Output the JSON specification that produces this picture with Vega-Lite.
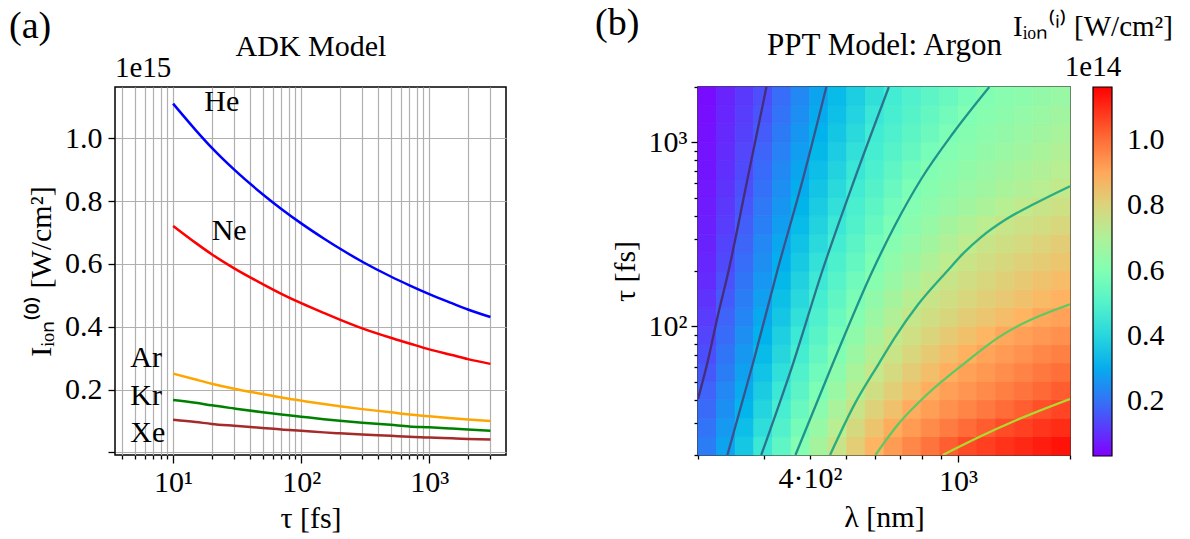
{
  "$schema": "https://vega.github.io/schema/vega-lite/v6.json",
  "background": "white",
  "padding": {"left": 8, "top": 4, "right": 5, "bottom": 3},
  "bounds": "flush",
  "spacing": 192,
  "config": {
    "font": "Liberation Serif",
    "view": {"stroke": "black", "strokeWidth": 1.5},
    "axis": {"labelFont": "Liberation Serif", "titleFont": "Liberation Serif", "labelFontSize": 30, "titleFontSize": 30, "titleFontWeight": "normal", "labelColor": "black", "titleColor": "black", "tickColor": "black", "tickWidth": 1.3, "domain": false, "grid": false, "labelOverlap": false, "labelFlush": false, "labelBound": false},
    "title": {"font": "Liberation Serif", "fontSize": 38, "fontWeight": "normal", "color": "black"},
    "text": {"font": "Liberation Serif", "color": "black"}
  },
  "datasets": {
    "adk": [
      {"gas":"He","tau":10,"I":1.110},{"gas":"He","tau":15,"I":1.026},{"gas":"He","tau":20,"I":0.970},{"gas":"He","tau":30,"I":0.900},{"gas":"He","tau":50,"I":0.822},{"gas":"He","tau":70,"I":0.775},{"gas":"He","tau":100,"I":0.729},{"gas":"He","tau":150,"I":0.681},{"gas":"He","tau":200,"I":0.649},{"gas":"He","tau":300,"I":0.607},{"gas":"He","tau":500,"I":0.560},{"gas":"He","tau":700,"I":0.532},{"gas":"He","tau":1000,"I":0.504},{"gas":"He","tau":1500,"I":0.475},{"gas":"He","tau":2000,"I":0.455},{"gas":"He","tau":3000,"I":0.431},
      {"gas":"Ne","tau":10,"I":0.721},{"gas":"Ne","tau":15,"I":0.667},{"gas":"Ne","tau":20,"I":0.631},{"gas":"Ne","tau":30,"I":0.586},{"gas":"Ne","tau":50,"I":0.536},{"gas":"Ne","tau":70,"I":0.505},{"gas":"Ne","tau":100,"I":0.475},{"gas":"Ne","tau":150,"I":0.444},{"gas":"Ne","tau":200,"I":0.423},{"gas":"Ne","tau":300,"I":0.395},{"gas":"Ne","tau":500,"I":0.365},{"gas":"Ne","tau":700,"I":0.347},{"gas":"Ne","tau":1000,"I":0.328},{"gas":"Ne","tau":1500,"I":0.310},{"gas":"Ne","tau":2000,"I":0.297},{"gas":"Ne","tau":3000,"I":0.282},
      {"gas":"Ar","tau":10,"I":0.251},{"gas":"Ar","tau":15,"I":0.232},{"gas":"Ar","tau":20,"I":0.219},{"gas":"Ar","tau":30,"I":0.203},{"gas":"Ar","tau":50,"I":0.186},{"gas":"Ar","tau":70,"I":0.175},{"gas":"Ar","tau":100,"I":0.165},{"gas":"Ar","tau":150,"I":0.154},{"gas":"Ar","tau":200,"I":0.147},{"gas":"Ar","tau":300,"I":0.138},{"gas":"Ar","tau":500,"I":0.128},{"gas":"Ar","tau":700,"I":0.121},{"gas":"Ar","tau":1000,"I":0.115},{"gas":"Ar","tau":1500,"I":0.109},{"gas":"Ar","tau":2000,"I":0.105},{"gas":"Ar","tau":3000,"I":0.100},
      {"gas":"Kr","tau":10,"I":0.167},{"gas":"Kr","tau":15,"I":0.158},{"gas":"Kr","tau":20,"I":0.150},{"gas":"Kr","tau":30,"I":0.140},{"gas":"Kr","tau":50,"I":0.128},{"gas":"Kr","tau":70,"I":0.121},{"gas":"Kr","tau":100,"I":0.114},{"gas":"Kr","tau":150,"I":0.106},{"gas":"Kr","tau":200,"I":0.101},{"gas":"Kr","tau":300,"I":0.095},{"gas":"Kr","tau":500,"I":0.088},{"gas":"Kr","tau":700,"I":0.083},{"gas":"Kr","tau":1000,"I":0.080},{"gas":"Kr","tau":1500,"I":0.076},{"gas":"Kr","tau":2000,"I":0.073},{"gas":"Kr","tau":3000,"I":0.069},
      {"gas":"Xe","tau":10,"I":0.104},{"gas":"Xe","tau":15,"I":0.097},{"gas":"Xe","tau":20,"I":0.091},{"gas":"Xe","tau":30,"I":0.085},{"gas":"Xe","tau":50,"I":0.078},{"gas":"Xe","tau":70,"I":0.073},{"gas":"Xe","tau":100,"I":0.069},{"gas":"Xe","tau":150,"I":0.064},{"gas":"Xe","tau":200,"I":0.061},{"gas":"Xe","tau":300,"I":0.057},{"gas":"Xe","tau":500,"I":0.053},{"gas":"Xe","tau":700,"I":0.050},{"gas":"Xe","tau":1000,"I":0.048},{"gas":"Xe","tau":1500,"I":0.045},{"gas":"Xe","tau":2000,"I":0.043},{"gas":"Xe","tau":3000,"I":0.041}
    ],
    "adkLabels": [
      {"gas":"He","tau":17.5,"I":1.115},{"gas":"Ne","tau":20,"I":0.705},{"gas":"Ar","tau":4.63,"I":0.302},{"gas":"Kr","tau":4.63,"I":0.180},{"gas":"Xe","tau":4.63,"I":0.0615}
    ],
    "lamE": [
      {"c":0,"lam":200,"lam2":224.4},{"c":1,"lam":224.4,"lam2":251.8},{"c":2,"lam":251.8,"lam2":282.5},{"c":3,"lam":282.5,"lam2":317.0},{"c":4,"lam":317.0,"lam2":355.7},{"c":5,"lam":355.7,"lam2":399.1},{"c":6,"lam":399.1,"lam2":447.7},{"c":7,"lam":447.7,"lam2":502.4},{"c":8,"lam":502.4,"lam2":563.7},{"c":9,"lam":563.7,"lam2":632.5},{"c":10,"lam":632.5,"lam2":709.6},{"c":11,"lam":709.6,"lam2":796.2},{"c":12,"lam":796.2,"lam2":893.4},{"c":13,"lam":893.4,"lam2":1002.4},{"c":14,"lam":1002.4,"lam2":1124.7},{"c":15,"lam":1124.7,"lam2":1261.9},{"c":16,"lam":1261.9,"lam2":1415.9},{"c":17,"lam":1415.9,"lam2":1588.7},{"c":18,"lam":1588.7,"lam2":1782.5},{"c":19,"lam":1782.5,"lam2":2000}
    ],
    "tauE": [
      {"r":0,"tau":20,"tau2":25.18},{"r":1,"tau":25.18,"tau2":31.70},{"r":2,"tau":31.70,"tau2":39.91},{"r":3,"tau":39.91,"tau2":50.24},{"r":4,"tau":50.24,"tau2":63.25},{"r":5,"tau":63.25,"tau2":79.62},{"r":6,"tau":79.62,"tau2":100.24},{"r":7,"tau":100.24,"tau2":126.19},{"r":8,"tau":126.19,"tau2":158.87},{"r":9,"tau":158.87,"tau2":200},{"r":10,"tau":200,"tau2":251.8},{"r":11,"tau":251.8,"tau2":317.0},{"r":12,"tau":317.0,"tau2":399.1},{"r":13,"tau":399.1,"tau2":502.4},{"r":14,"tau":502.4,"tau2":632.5},{"r":15,"tau":632.5,"tau2":796.2},{"r":16,"tau":796.2,"tau2":1002.4},{"r":17,"tau":1002.4,"tau2":1261.9},{"r":18,"tau":1261.9,"tau2":1588.7},{"r":19,"tau":1588.7,"tau2":2000}
    ],
    "cells": [
      {"r":0,"c":0,"I":0.221},{"r":0,"c":1,"I":0.286},{"r":0,"c":2,"I":0.364},{"r":0,"c":3,"I":0.445},{"r":0,"c":4,"I":0.525},{"r":0,"c":5,"I":0.605},{"r":0,"c":6,"I":0.684},{"r":0,"c":7,"I":0.759},{"r":0,"c":8,"I":0.818},{"r":0,"c":9,"I":0.877},{"r":0,"c":10,"I":0.921},{"r":0,"c":11,"I":0.957},{"r":0,"c":12,"I":0.992},{"r":0,"c":13,"I":1.027},{"r":0,"c":14,"I":1.056},{"r":0,"c":15,"I":1.072},{"r":0,"c":16,"I":1.088},{"r":0,"c":17,"I":1.104},{"r":0,"c":18,"I":1.120},{"r":0,"c":19,"I":1.136},
      {"r":1,"c":0,"I":0.205},{"r":1,"c":1,"I":0.269},{"r":1,"c":2,"I":0.341},{"r":1,"c":3,"I":0.419},{"r":1,"c":4,"I":0.496},{"r":1,"c":5,"I":0.574},{"r":1,"c":6,"I":0.650},{"r":1,"c":7,"I":0.726},{"r":1,"c":8,"I":0.786},{"r":1,"c":9,"I":0.840},{"r":1,"c":10,"I":0.894},{"r":1,"c":11,"I":0.923},{"r":1,"c":12,"I":0.950},{"r":1,"c":13,"I":0.977},{"r":1,"c":14,"I":1.004},{"r":1,"c":15,"I":1.030},{"r":1,"c":16,"I":1.054},{"r":1,"c":17,"I":1.069},{"r":1,"c":18,"I":1.084},{"r":1,"c":19,"I":1.099},
      {"r":2,"c":0,"I":0.190},{"r":2,"c":1,"I":0.253},{"r":2,"c":2,"I":0.320},{"r":2,"c":3,"I":0.395},{"r":2,"c":4,"I":0.471},{"r":2,"c":5,"I":0.545},{"r":2,"c":6,"I":0.618},{"r":2,"c":7,"I":0.692},{"r":2,"c":8,"I":0.759},{"r":2,"c":9,"I":0.804},{"r":2,"c":10,"I":0.848},{"r":2,"c":11,"I":0.893},{"r":2,"c":12,"I":0.918},{"r":2,"c":13,"I":0.940},{"r":2,"c":14,"I":0.961},{"r":2,"c":15,"I":0.983},{"r":2,"c":16,"I":1.004},{"r":2,"c":17,"I":1.026},{"r":2,"c":18,"I":1.047},{"r":2,"c":19,"I":1.063},
      {"r":3,"c":0,"I":0.175},{"r":3,"c":1,"I":0.237},{"r":3,"c":2,"I":0.299},{"r":3,"c":3,"I":0.373},{"r":3,"c":4,"I":0.446},{"r":3,"c":5,"I":0.518},{"r":3,"c":6,"I":0.589},{"r":3,"c":7,"I":0.657},{"r":3,"c":8,"I":0.724},{"r":3,"c":9,"I":0.774},{"r":3,"c":10,"I":0.813},{"r":3,"c":11,"I":0.851},{"r":3,"c":12,"I":0.890},{"r":3,"c":13,"I":0.914},{"r":3,"c":14,"I":0.933},{"r":3,"c":15,"I":0.952},{"r":3,"c":16,"I":0.971},{"r":3,"c":17,"I":0.990},{"r":3,"c":18,"I":1.009},{"r":3,"c":19,"I":1.028},
      {"r":4,"c":0,"I":0.160},{"r":4,"c":1,"I":0.221},{"r":4,"c":2,"I":0.283},{"r":4,"c":3,"I":0.352},{"r":4,"c":4,"I":0.423},{"r":4,"c":5,"I":0.493},{"r":4,"c":6,"I":0.562},{"r":4,"c":7,"I":0.627},{"r":4,"c":8,"I":0.689},{"r":4,"c":9,"I":0.750},{"r":4,"c":10,"I":0.785},{"r":4,"c":11,"I":0.819},{"r":4,"c":12,"I":0.854},{"r":4,"c":13,"I":0.889},{"r":4,"c":14,"I":0.912},{"r":4,"c":15,"I":0.929},{"r":4,"c":16,"I":0.947},{"r":4,"c":17,"I":0.964},{"r":4,"c":18,"I":0.982},{"r":4,"c":19,"I":0.999},
      {"r":5,"c":0,"I":0.145},{"r":5,"c":1,"I":0.206},{"r":5,"c":2,"I":0.267},{"r":5,"c":3,"I":0.332},{"r":5,"c":4,"I":0.401},{"r":5,"c":5,"I":0.470},{"r":5,"c":6,"I":0.536},{"r":5,"c":7,"I":0.602},{"r":5,"c":8,"I":0.659},{"r":5,"c":9,"I":0.716},{"r":5,"c":10,"I":0.762},{"r":5,"c":11,"I":0.793},{"r":5,"c":12,"I":0.824},{"r":5,"c":13,"I":0.854},{"r":5,"c":14,"I":0.885},{"r":5,"c":15,"I":0.908},{"r":5,"c":16,"I":0.923},{"r":5,"c":17,"I":0.939},{"r":5,"c":18,"I":0.955},{"r":5,"c":19,"I":0.970},
      {"r":6,"c":0,"I":0.132},{"r":6,"c":1,"I":0.191},{"r":6,"c":2,"I":0.251},{"r":6,"c":3,"I":0.313},{"r":6,"c":4,"I":0.380},{"r":6,"c":5,"I":0.448},{"r":6,"c":6,"I":0.511},{"r":6,"c":7,"I":0.575},{"r":6,"c":8,"I":0.633},{"r":6,"c":9,"I":0.687},{"r":6,"c":10,"I":0.741},{"r":6,"c":11,"I":0.772},{"r":6,"c":12,"I":0.798},{"r":6,"c":13,"I":0.824},{"r":6,"c":14,"I":0.850},{"r":6,"c":15,"I":0.876},{"r":6,"c":16,"I":0.901},{"r":6,"c":17,"I":0.915},{"r":6,"c":18,"I":0.928},{"r":6,"c":19,"I":0.942},
      {"r":7,"c":0,"I":0.120},{"r":7,"c":1,"I":0.177},{"r":7,"c":2,"I":0.236},{"r":7,"c":3,"I":0.296},{"r":7,"c":4,"I":0.361},{"r":7,"c":5,"I":0.426},{"r":7,"c":6,"I":0.489},{"r":7,"c":7,"I":0.550},{"r":7,"c":8,"I":0.609},{"r":7,"c":9,"I":0.658},{"r":7,"c":10,"I":0.708},{"r":7,"c":11,"I":0.753},{"r":7,"c":12,"I":0.774},{"r":7,"c":13,"I":0.795},{"r":7,"c":14,"I":0.816},{"r":7,"c":15,"I":0.837},{"r":7,"c":16,"I":0.858},{"r":7,"c":17,"I":0.879},{"r":7,"c":18,"I":0.900},{"r":7,"c":19,"I":0.913},
      {"r":8,"c":0,"I":0.108},{"r":8,"c":1,"I":0.163},{"r":8,"c":2,"I":0.221},{"r":8,"c":3,"I":0.280},{"r":8,"c":4,"I":0.342},{"r":8,"c":5,"I":0.406},{"r":8,"c":6,"I":0.468},{"r":8,"c":7,"I":0.527},{"r":8,"c":8,"I":0.586},{"r":8,"c":9,"I":0.634},{"r":8,"c":10,"I":0.678},{"r":8,"c":11,"I":0.723},{"r":8,"c":12,"I":0.757},{"r":8,"c":13,"I":0.775},{"r":8,"c":14,"I":0.793},{"r":8,"c":15,"I":0.812},{"r":8,"c":16,"I":0.830},{"r":8,"c":17,"I":0.848},{"r":8,"c":18,"I":0.866},{"r":8,"c":19,"I":0.884},
      {"r":9,"c":0,"I":0.097},{"r":9,"c":1,"I":0.149},{"r":9,"c":2,"I":0.207},{"r":9,"c":3,"I":0.265},{"r":9,"c":4,"I":0.324},{"r":9,"c":5,"I":0.387},{"r":9,"c":6,"I":0.449},{"r":9,"c":7,"I":0.506},{"r":9,"c":8,"I":0.562},{"r":9,"c":9,"I":0.613},{"r":9,"c":10,"I":0.653},{"r":9,"c":11,"I":0.692},{"r":9,"c":12,"I":0.731},{"r":9,"c":13,"I":0.759},{"r":9,"c":14,"I":0.776},{"r":9,"c":15,"I":0.793},{"r":9,"c":16,"I":0.810},{"r":9,"c":17,"I":0.827},{"r":9,"c":18,"I":0.844},{"r":9,"c":19,"I":0.861},
      {"r":10,"c":0,"I":0.088},{"r":10,"c":1,"I":0.138},{"r":10,"c":2,"I":0.193},{"r":10,"c":3,"I":0.250},{"r":10,"c":4,"I":0.308},{"r":10,"c":5,"I":0.368},{"r":10,"c":6,"I":0.428},{"r":10,"c":7,"I":0.485},{"r":10,"c":8,"I":0.538},{"r":10,"c":9,"I":0.592},{"r":10,"c":10,"I":0.631},{"r":10,"c":11,"I":0.666},{"r":10,"c":12,"I":0.702},{"r":10,"c":13,"I":0.738},{"r":10,"c":14,"I":0.760},{"r":10,"c":15,"I":0.776},{"r":10,"c":16,"I":0.791},{"r":10,"c":17,"I":0.807},{"r":10,"c":18,"I":0.823},{"r":10,"c":19,"I":0.838},
      {"r":11,"c":0,"I":0.082},{"r":11,"c":1,"I":0.129},{"r":11,"c":2,"I":0.181},{"r":11,"c":3,"I":0.237},{"r":11,"c":4,"I":0.292},{"r":11,"c":5,"I":0.350},{"r":11,"c":6,"I":0.408},{"r":11,"c":7,"I":0.464},{"r":11,"c":8,"I":0.515},{"r":11,"c":9,"I":0.566},{"r":11,"c":10,"I":0.611},{"r":11,"c":11,"I":0.643},{"r":11,"c":12,"I":0.675},{"r":11,"c":13,"I":0.707},{"r":11,"c":14,"I":0.739},{"r":11,"c":15,"I":0.759},{"r":11,"c":16,"I":0.773},{"r":11,"c":17,"I":0.787},{"r":11,"c":18,"I":0.802},{"r":11,"c":19,"I":0.816},
      {"r":12,"c":0,"I":0.077},{"r":12,"c":1,"I":0.121},{"r":12,"c":2,"I":0.169},{"r":12,"c":3,"I":0.224},{"r":12,"c":4,"I":0.278},{"r":12,"c":5,"I":0.333},{"r":12,"c":6,"I":0.390},{"r":12,"c":7,"I":0.446},{"r":12,"c":8,"I":0.494},{"r":12,"c":9,"I":0.543},{"r":12,"c":10,"I":0.591},{"r":12,"c":11,"I":0.622},{"r":12,"c":12,"I":0.650},{"r":12,"c":13,"I":0.678},{"r":12,"c":14,"I":0.705},{"r":12,"c":15,"I":0.733},{"r":12,"c":16,"I":0.755},{"r":12,"c":17,"I":0.767},{"r":12,"c":18,"I":0.780},{"r":12,"c":19,"I":0.793},
      {"r":13,"c":0,"I":0.072},{"r":13,"c":1,"I":0.114},{"r":13,"c":2,"I":0.158},{"r":13,"c":3,"I":0.211},{"r":13,"c":4,"I":0.264},{"r":13,"c":5,"I":0.318},{"r":13,"c":6,"I":0.372},{"r":13,"c":7,"I":0.426},{"r":13,"c":8,"I":0.476},{"r":13,"c":9,"I":0.522},{"r":13,"c":10,"I":0.567},{"r":13,"c":11,"I":0.606},{"r":13,"c":12,"I":0.629},{"r":13,"c":13,"I":0.652},{"r":13,"c":14,"I":0.675},{"r":13,"c":15,"I":0.697},{"r":13,"c":16,"I":0.720},{"r":13,"c":17,"I":0.743},{"r":13,"c":18,"I":0.758},{"r":13,"c":19,"I":0.770},
      {"r":14,"c":0,"I":0.067},{"r":14,"c":1,"I":0.107},{"r":14,"c":2,"I":0.148},{"r":14,"c":3,"I":0.199},{"r":14,"c":4,"I":0.251},{"r":14,"c":5,"I":0.303},{"r":14,"c":6,"I":0.356},{"r":14,"c":7,"I":0.408},{"r":14,"c":8,"I":0.459},{"r":14,"c":9,"I":0.503},{"r":14,"c":10,"I":0.546},{"r":14,"c":11,"I":0.590},{"r":14,"c":12,"I":0.614},{"r":14,"c":13,"I":0.633},{"r":14,"c":14,"I":0.651},{"r":14,"c":15,"I":0.670},{"r":14,"c":16,"I":0.689},{"r":14,"c":17,"I":0.707},{"r":14,"c":18,"I":0.726},{"r":14,"c":19,"I":0.745},
      {"r":15,"c":0,"I":0.063},{"r":15,"c":1,"I":0.101},{"r":15,"c":2,"I":0.140},{"r":15,"c":3,"I":0.188},{"r":15,"c":4,"I":0.239},{"r":15,"c":5,"I":0.290},{"r":15,"c":6,"I":0.341},{"r":15,"c":7,"I":0.391},{"r":15,"c":8,"I":0.442},{"r":15,"c":9,"I":0.484},{"r":15,"c":10,"I":0.525},{"r":15,"c":11,"I":0.565},{"r":15,"c":12,"I":0.602},{"r":15,"c":13,"I":0.620},{"r":15,"c":14,"I":0.637},{"r":15,"c":15,"I":0.655},{"r":15,"c":16,"I":0.672},{"r":15,"c":17,"I":0.690},{"r":15,"c":18,"I":0.707},{"r":15,"c":19,"I":0.725},
      {"r":16,"c":0,"I":0.060},{"r":16,"c":1,"I":0.096},{"r":16,"c":2,"I":0.133},{"r":16,"c":3,"I":0.177},{"r":16,"c":4,"I":0.227},{"r":16,"c":5,"I":0.277},{"r":16,"c":6,"I":0.326},{"r":16,"c":7,"I":0.376},{"r":16,"c":8,"I":0.425},{"r":16,"c":9,"I":0.468},{"r":16,"c":10,"I":0.505},{"r":16,"c":11,"I":0.541},{"r":16,"c":12,"I":0.578},{"r":16,"c":13,"I":0.607},{"r":16,"c":14,"I":0.623},{"r":16,"c":15,"I":0.640},{"r":16,"c":16,"I":0.657},{"r":16,"c":17,"I":0.673},{"r":16,"c":18,"I":0.690},{"r":16,"c":19,"I":0.707},
      {"r":17,"c":0,"I":0.057},{"r":17,"c":1,"I":0.092},{"r":17,"c":2,"I":0.127},{"r":17,"c":3,"I":0.166},{"r":17,"c":4,"I":0.215},{"r":17,"c":5,"I":0.264},{"r":17,"c":6,"I":0.313},{"r":17,"c":7,"I":0.361},{"r":17,"c":8,"I":0.408},{"r":17,"c":9,"I":0.455},{"r":17,"c":10,"I":0.488},{"r":17,"c":11,"I":0.522},{"r":17,"c":12,"I":0.555},{"r":17,"c":13,"I":0.589},{"r":17,"c":14,"I":0.610},{"r":17,"c":15,"I":0.626},{"r":17,"c":16,"I":0.641},{"r":17,"c":17,"I":0.657},{"r":17,"c":18,"I":0.672},{"r":17,"c":19,"I":0.688},
      {"r":18,"c":0,"I":0.053},{"r":18,"c":1,"I":0.087},{"r":18,"c":2,"I":0.121},{"r":18,"c":3,"I":0.156},{"r":18,"c":4,"I":0.204},{"r":18,"c":5,"I":0.252},{"r":18,"c":6,"I":0.300},{"r":18,"c":7,"I":0.346},{"r":18,"c":8,"I":0.393},{"r":18,"c":9,"I":0.440},{"r":18,"c":10,"I":0.474},{"r":18,"c":11,"I":0.505},{"r":18,"c":12,"I":0.536},{"r":18,"c":13,"I":0.567},{"r":18,"c":14,"I":0.598},{"r":18,"c":15,"I":0.613},{"r":18,"c":16,"I":0.628},{"r":18,"c":17,"I":0.642},{"r":18,"c":18,"I":0.656},{"r":18,"c":19,"I":0.671},
      {"r":19,"c":0,"I":0.050},{"r":19,"c":1,"I":0.083},{"r":19,"c":2,"I":0.115},{"r":19,"c":3,"I":0.147},{"r":19,"c":4,"I":0.193},{"r":19,"c":5,"I":0.240},{"r":19,"c":6,"I":0.287},{"r":19,"c":7,"I":0.333},{"r":19,"c":8,"I":0.378},{"r":19,"c":9,"I":0.424},{"r":19,"c":10,"I":0.462},{"r":19,"c":11,"I":0.491},{"r":19,"c":12,"I":0.520},{"r":19,"c":13,"I":0.548},{"r":19,"c":14,"I":0.577},{"r":19,"c":15,"I":0.603},{"r":19,"c":16,"I":0.615},{"r":19,"c":17,"I":0.628},{"r":19,"c":18,"I":0.640},{"r":19,"c":19,"I":0.653}
    ],
    "contours": [
      {"lev":"0.15","k":0,"lam":200,"tau":40.3},{"lev":"0.15","k":1,"lam":211.9,"tau":63.2},{"lev":"0.15","k":2,"lam":225.7,"tau":112.5},{"lev":"0.15","k":3,"lam":241.6,"tau":200},{"lev":"0.15","k":4,"lam":271.7,"tau":632.5},{"lev":"0.15","k":5,"lam":305.5,"tau":2000},
      {"lev":"0.30","k":0,"lam":239.9,"tau":20},{"lev":"0.30","k":1,"lam":281.2,"tau":63.2},{"lev":"0.30","k":2,"lam":326.6,"tau":200},{"lev":"0.30","k":3,"lam":382.9,"tau":632.5},{"lev":"0.30","k":4,"lam":442.6,"tau":2000},
      {"lev":"0.45","k":0,"lam":295.8,"tau":20},{"lev":"0.45","k":1,"lam":360.6,"tau":63.2},{"lev":"0.45","k":2,"lam":431.6,"tau":200},{"lev":"0.45","k":3,"lam":527.3,"tau":632.5},{"lev":"0.45","k":4,"lam":651.7,"tau":2000},
      {"lev":"0.60","k":0,"lam":365.6,"tau":20},{"lev":"0.60","k":1,"lam":461.3,"tau":63.2},{"lev":"0.60","k":2,"lam":588.9,"tau":200},{"lev":"0.60","k":3,"lam":677.6,"tau":355.7},{"lev":"0.60","k":4,"lam":796.2,"tau":632.5},{"lev":"0.60","k":5,"lam":970.6,"tau":1124.7},{"lev":"0.60","k":6,"lam":1213.5,"tau":2000},
      {"lev":"0.75","k":0,"lam":452.9,"tau":20},{"lev":"0.75","k":1,"lam":527.3,"tau":37.8},{"lev":"0.75","k":2,"lam":613.8,"tau":63.2},{"lev":"0.75","k":3,"lam":676.1,"tau":86.9},{"lev":"0.75","k":4,"lam":781.7,"tau":131.8},{"lev":"0.75","k":5,"lam":935.5,"tau":200},{"lev":"0.75","k":6,"lam":1032.8,"tau":249.5},{"lev":"0.75","k":7,"lam":1156.2,"tau":306.9},{"lev":"0.75","k":8,"lam":1336.7,"tau":378.5},{"lev":"0.75","k":9,"lam":1610.8,"tau":465.6},{"lev":"0.75","k":10,"lam":2000,"tau":578.1},
      {"lev":"0.90","k":0,"lam":599.8,"tau":20},{"lev":"0.90","k":1,"lam":690.3,"tau":29.4},{"lev":"0.90","k":2,"lam":828.0,"tau":42.9},{"lev":"0.90","k":3,"lam":1042.4,"tau":63.2},{"lev":"0.90","k":4,"lam":1282.4,"tau":86.9},{"lev":"0.90","k":5,"lam":2000,"tau":131.8},
      {"lev":"1.05","k":0,"lam":910.0,"tau":20},{"lev":"1.05","k":1,"lam":1132.5,"tau":24.9},{"lev":"1.05","k":2,"lam":1422.4,"tau":30.7},{"lev":"1.05","k":3,"lam":2000,"tau":40.3}
    ]
  },
  "hconcat": [
    {
      "width": 391,
      "height": 368,
      "title": {"text": "(a)", "anchor": "start", "frame": "group", "dx": -106, "dy": 15, "offset": 0},
      "layer": [
        {
          "data": {"name": "adk"},
          "mark": {"type": "line", "strokeWidth": 2.5, "clip": true, "interpolate": "monotone"},
          "encoding": {
            "x": {"field": "tau", "type": "quantitative", "scale": {"type": "log", "domain": [3.52, 3970], "nice": false},
              "axis": {"values": [4,5,6,7,8,9,10,20,30,40,50,60,70,80,90,100,200,300,400,500,600,700,800,900,1000,2000,3000],
                "labelExpr": "datum.value == 10 ? '10¹' : datum.value == 100 ? '10²' : datum.value == 1000 ? '10³' : ''",
                "tickSize": {"condition": {"test": "datum.value == 10 || datum.value == 100 || datum.value == 1000", "value": 8}, "value": 4},
                "grid": true, "gridColor": "#b0b0b0", "gridWidth": 1.2, "title": "τ [fs]", "labelPadding": 4, "titlePadding": 6}},
            "y": {"field": "I", "type": "quantitative", "scale": {"domain": [-0.008, 1.163], "nice": false, "zero": false},
              "axis": {"values": [0,0.2,0.4,0.6,0.8,1.0], "labelExpr": "datum.value == 0 ? '' : format(datum.value, '.1f')",
                "grid": true, "gridColor": "#b0b0b0", "gridWidth": 1.2, "tickSize": 7, "title": "Iᵢₒₙ⁽⁰⁾ [W/cm²]", "labelPadding": 6, "titlePadding": 8}},
            "color": {"field": "gas", "type": "nominal", "scale": {"domain": ["He","Ne","Ar","Kr","Xe"], "range": ["#0000ff","#ff0000","#ffa500","#008000","#a52a2a"]}, "legend": null}
          }
        },
        {
          "data": {"name": "adkLabels"},
          "mark": {"type": "text", "align": "left", "baseline": "middle", "fontSize": 30},
          "encoding": {
            "x": {"field": "tau", "type": "quantitative", "axis": {"orient": "top", "title": "ADK Model", "labels": false, "ticks": false, "grid": false, "domain": false, "titleFontSize": 30, "titlePadding": 26}},
            "y": {"field": "I", "type": "quantitative"},
            "text": {"field": "gas"}
          }
        },
        {
          "data": {"values": [{}]},
          "mark": {"type": "text", "align": "left", "baseline": "bottom", "fontSize": 29, "dy": -4},
          "encoding": {
            "x": {"datum": 3.52, "type": "quantitative", "axis": null},
            "y": {"datum": 1.163, "type": "quantitative"},
            "text": {"value": "1e15"}
          }
        }
      ],
      "resolve": {"axis": {"x": "independent"}}
    },
    {
      "width": 372,
      "height": 368,
      "title": {"text": "(b)", "anchor": "start", "frame": "group", "dx": -103, "dy": 30, "offset": 0},
      "layer": [
        {
          "data": {"name": "cells"},
          "transform": [
            {"lookup": "c", "from": {"data": {"name": "lamE"}, "key": "c", "fields": ["lam", "lam2"]}},
            {"lookup": "r", "from": {"data": {"name": "tauE"}, "key": "r", "fields": ["tau", "tau2"]}}
          ],
          "mark": {"type": "rect", "strokeWidth": 0.8},
          "encoding": {
            "x": {"field": "lam", "type": "quantitative", "scale": {"type": "log", "domain": [200, 2000], "nice": false},
              "axis": {"values": [200,300,400,500,600,700,800,900,1000,2000],
                "labelExpr": "datum.value == 400 ? '4·10²' : datum.value == 1000 ? '10³' : ''",
                "tickSize": {"condition": {"test": "datum.value == 1000", "value": 7}, "value": 4},
                "title": "λ [nm]", "labelPadding": 4, "titlePadding": 6}},
            "x2": {"field": "lam2"},
            "y": {"field": "tau", "type": "quantitative", "scale": {"type": "log", "domain": [20, 2000], "nice": false},
              "axis": {"values": [20,30,40,50,60,70,80,90,100,200,300,400,500,600,700,800,900,1000,2000],
                "labelExpr": "datum.value == 100 ? '10²' : datum.value == 1000 ? '10³' : ''",
                "tickSize": {"condition": {"test": "datum.value == 100 || datum.value == 1000", "value": 7}, "value": 4},
                "title": "τ [fs]", "labelPadding": 4, "titlePadding": 8}},
            "y2": {"field": "tau2"},
            "color": {"field": "I", "type": "quantitative",
              "scale": {"domain": [0.033,0.174,0.315,0.456,0.598,0.739,0.880,1.021,1.162], "range": ["#8000ff","#4062fa","#00b4ec","#40ecd4","#80ffb4","#bfec8e","#ffb462","#ff6232","#ff0000"], "interpolate": "rgb"},
              "legend": {"orient": "none", "legendX": 315, "legendY": -74, "direction": "vertical", "gradientLength": 369, "gradientThickness": 19,
                "gradientStrokeColor": "black", "gradientStrokeWidth": 1.2, "values": [0.2,0.4,0.6,0.8,1.0], "format": ".1f",
                "labelFont": "Liberation Serif", "labelFontSize": 30, "labelColor": "black", "labelOffset": 15, "labelOverlap": false,
                "title": ["Iᵢₒₙ⁽ⁱ⁾ [W/cm²]", "1e14"], "titleFont": "Liberation Serif", "titleFontSize": 29, "titleFontWeight": "normal", "titleColor": "black",
                "titleAnchor": "start", "titleAlign": "center", "titleLineHeight": 40, "titlePadding": 5, "titleLimit": 400}},
            "stroke": {"field": "I", "type": "quantitative",
              "scale": {"domain": [0.033,0.174,0.315,0.456,0.598,0.739,0.880,1.021,1.162], "range": ["#8000ff","#4062fa","#00b4ec","#40ecd4","#80ffb4","#bfec8e","#ffb462","#ff6232","#ff0000"], "interpolate": "rgb"},
              "legend": null}
          }
        },
        {
          "data": {"name": "contours"},
          "mark": {"type": "line", "strokeWidth": 2.3, "clip": true, "interpolate": "monotone"},
          "encoding": {
            "x": {"field": "lam", "type": "quantitative", "axis": {"orient": "top", "title": "PPT Model: Argon", "labels": false, "ticks": false, "grid": false, "domain": false, "titleFontSize": 31, "titlePadding": 26}},
            "y": {"field": "tau", "type": "quantitative"},
            "color": {"field": "lev", "type": "nominal", "scale": {"domain": ["0.15","0.30","0.45","0.60","0.75","0.90","1.05"], "range": ["#472c7a","#3b528b","#2c728e","#21918c","#28ae80","#5ec962","#addc30"]}, "legend": null},
            "order": {"field": "k", "type": "quantitative"}
          }
        }
      ],
      "resolve": {"scale": {"color": "independent"}, "axis": {"x": "independent"}}
    }
  ]
}
